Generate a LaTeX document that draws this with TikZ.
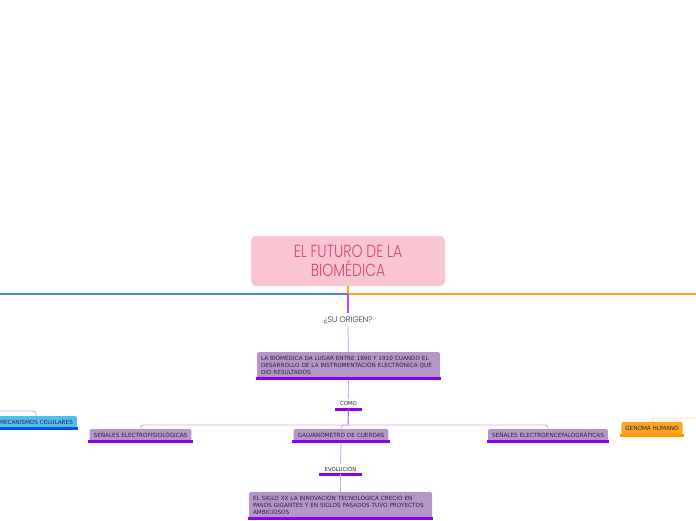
\documentclass[tikz,border=0pt]{standalone}
\usepackage{fontspec}
\newfontfamily\labelfont{DejaVu Sans}
\newfontfamily\titlefont{Poppins Light}[FakeStretch=0.8]
\newfontfamily\subtitlefont{Poppins Light}
\definecolor{titlepink}{RGB}{249,197,210}
\definecolor{titlered}{RGB}{212,70,112}
\definecolor{boxlila}{RGB}{180,150,200}
\definecolor{ullila}{RGB}{140,0,235}
\definecolor{linklila}{RGB}{215,165,245}
\definecolor{linkdark}{RGB}{185,70,250}
\definecolor{labeltext}{RGB}{45,35,55}
\definecolor{mainblue}{RGB}{75,125,255}
\definecolor{mainorange}{RGB}{255,165,20}
\definecolor{mecfill}{RGB}{85,190,240}
\definecolor{mecul}{RGB}{0,85,235}
\definecolor{meclink}{RGB}{160,185,255}
\definecolor{genfill}{RGB}{255,165,35}
\definecolor{genul}{RGB}{255,150,0}
\definecolor{genlink}{RGB}{255,215,160}
\tikzset{
    topic/.style={fill=boxlila, rounded corners=1.5pt, text=labeltext,
        font=\labelfont\fontsize{5.7}{6.8}\selectfont, inner xsep=4pt, inner ysep=1pt,
        minimum height=12pt},
    longtopic/.style={topic, text width=175pt, align=left, minimum height=26pt},
    plain/.style={text=labeltext, font=\labelfont\fontsize{5.4}{6}\selectfont,
        minimum height=10pt, inner sep=0pt},
    ul/.style={ullila, line width=2.6pt},
    branch/.style={linklila, line width=0.9pt},
    darkbranch/.style={linkdark, line width=1.2pt}
}
\begin{document}
\begin{tikzpicture}[x=1pt,y=-1pt]
    \useasboundingbox (0,0) rectangle (696,520);
    \clip (0,0) rectangle (696,520);
    % central topic
    \node[fill=titlepink, rounded corners=5pt, minimum width=194pt, minimum height=50pt,
        text=titlered, align=center, font=\titlefont\fontsize{17.5}{18.5}\selectfont]
        (title) at (348,261) {EL FUTURO DE LA\\BIOMÉDICA};
    \coordinate (fork) at (348,294);
    \coordinate (westend) at (-10,294);
    \coordinate (eastend) at (706,294);
    \draw[mainorange, line width=1.2pt] (title.south) -- (fork) -- (eastend);
    \draw[mainblue, line width=1.2pt] (fork) -- (westend);

    % main branch
    \node[text=labeltext, font=\subtitlefont\fontsize{8}{9}\selectfont] (origen) at (348,320) {¿SU ORIGEN?};
    \draw[darkbranch] (fork) -- (origen.north);
    \node[longtopic] (bio) at (348.5,365) {LA BIOMÉDICA DA LUGAR ENTRE 1890 Y 1910 CUANDO EL\\DESARROLLO DE LA INSTRUMENTACIÓN ELECTRÓNICA QUE\\DIO RESULTADOS};
    \draw[ul] ([xshift=-1pt]bio.south west) -- ([xshift=1pt]bio.south east);
    \draw[branch] (origen.south) -- (bio.north);
    \node[plain, minimum width=27pt] (como) at (348.5,404) {COMO};
    \draw[ul] (como.south west) -- (como.south east);
    \draw[branch] ([yshift=-1.5pt]bio.south) -- (como.north);

    \coordinate (hub) at (348,425);
    \draw[darkbranch, line width=0.9pt] (como.south) -- (hub);
    \node[topic, minimum width=101pt] (elec) at (140.5,435) {SEÑALES ELECTROFISIOLÓGICAS};
    \node[topic, minimum width=92pt] (galv) at (341,435) {GALVANÓMETRO DE CUERDAS};
    \node[topic, minimum width=118pt] (eeg) at (548,435) {SEÑALES ELECTROENCEFALOGRÁFICAS};
    \foreach \n in {elec,galv,eeg}{
        \draw[branch, rounded corners=3pt] (hub) -| (\n.north);
        \draw[ul] ([xshift=-1pt]\n.south west) -- ([xshift=1pt]\n.south east);
    }

    \node[plain, minimum width=43pt] (evol) at (340.5,469) {EVOLUCIÓN};
    \draw[ul] (evol.south west) -- (evol.south east);
    \draw[branch] ([yshift=-1.5pt]galv.south) -- (evol.north);
    \node[longtopic] (siglo) at (340.5,505) {EL SIGLO XX LA INNOVACIÓN TECNOLÓGICA CRECIÓ EN\\PASOS GIGANTES Y EN SIGLOS PASADOS TUVO PROYECTOS\\AMBICIOSOS};
    \draw[ul] ([xshift=-1pt]siglo.south west) -- ([xshift=1pt]siglo.south east);
    \draw[branch] (evol.south) -- (siglo.north);

    % side topics
    \node[topic, fill=mecfill, minimum width=80pt] (mec) at (36,422) {MECANISMOS CELULARES};
    \draw[mecul, line width=2.6pt] (mec.south west) -- ([xshift=1pt]mec.south east);
    \coordinate (mecfrom) at (-20,411);
    \draw[meclink, line width=0.9pt, rounded corners=3pt] (mecfrom) -| (mec.north);
    \node[topic, fill=genfill, minimum width=60pt, minimum height=13pt] (gen) at (652,428.5) {GENOMA HUMANO};
    \draw[genul, line width=2.6pt] ([xshift=-1pt]gen.south west) -- ([xshift=1pt]gen.south east);
    \coordinate (genfrom) at (706,418);
    \draw[genlink, line width=0.9pt, rounded corners=3pt] (genfrom) -| (gen.north);
\end{tikzpicture}
\end{document}
